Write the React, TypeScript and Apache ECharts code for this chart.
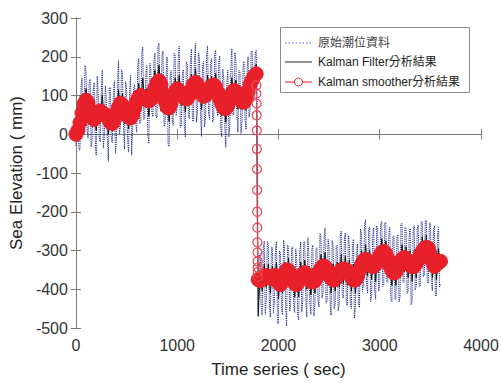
import React, { useEffect, useRef } from "react";
import * as echarts from "echarts";

const STEP = 20;
const HALF = 10;
const SEG2_START = 1800;

const legendNames = ["原始潮位資料", "Kalman Filter分析結果", "Kalman smoother分析結果"];

// ---------- first segment (t = 0 .. 1790) ----------
// raw samples at t = 0, 20, 40, ...
const seg1RawA = [
  -30, 70, -40, 145, 38, 158, -10, 142, -15, 133,
  -55, 105, -20, 166, -8, 88, -70, 120, -22, 138,
  -15, 190, 20, 155, -38, 120, -46, 152, 10, 128,
  5, 196, 30, 225, 42, 178, -24, 170, 45, 210,
  42, 235, 58, 215, 25, 200, -32, 165, 23, 205,
  67, 227, 19, 167, -8, 182, 40, 220, 33, 234,
  58, 195, -6, 188, 45, 228, 38, 195, 37, 217,
  48, 202, -7, 143, -34, 165, 22, 221, 53, 190,
  5, 160, 34, 188, 12, 200, 63, 215, 95, 216,
];
// raw samples at t = 10, 30, 50, ...
const seg1RawB = [
  55, -40, 122, 26, 178, 14, 131, -32, 111, -9,
  150, -8, 103, -36, 125, -11, 120, -16, 98, -49,
  117, 0, 167, 18, 136, -13, 113, -54, 119, 31,
  175, 28, 207, 38, 155, -3, 183, 57, 187, 46,
  225, 73, 201, 20, 137, -26, 144, 39, 209, 48,
  194, 18, 155, 24, 187, 51, 182, 36, 191, 31,
  211, 54, 171, 19, 204, 53, 186, 31, 204, 65,
  185, 15, 168, 22, 130, -7, 174, 49, 211, 50,
  165, 2, 173, 37, 166, 44, 214, 85, 208, 86,
];
const seg1Filter = [
  -15, 35, 0, 90, 58, 118, 40, 87, 20, 78,
  10, 75, 30, 101, 32, 63, 0, 60, 8, 73,
  30, 115, 60, 105, 27, 75, 14, 82, 35, 93,
  55, 131, 75, 145, 72, 118, 46, 120, 85, 165,
  97, 178, 103, 145, 65, 115, 33, 110, 68, 145,
  97, 152, 74, 122, 57, 122, 80, 155, 93, 169,
  103, 145, 64, 133, 80, 153, 88, 150, 92, 157,
  88, 132, 48, 98, 31, 110, 67, 146, 93, 140,
  65, 115, 64, 123, 62, 145, 103, 170, 130, 181,
];
const seg1Smooth = [
  0, 10, 30, 55, 78, 88, 80, 62, 45, 38,
  45, 55, 60, 56, 52, 48, 40, 30, 28, 38,
  55, 70, 80, 75, 62, 50, 44, 42, 50, 68,
  85, 96, 100, 95, 92, 88, 86, 90, 105, 120,
  132, 138, 128, 105, 85, 70, 68, 80, 98, 110,
  117, 112, 104, 97, 92, 92, 100, 115, 128, 134,
  128, 115, 104, 98, 100, 108, 118, 125, 127, 122,
  108, 92, 78, 68, 66, 75, 92, 106, 113, 110,
  100, 90, 84, 83, 92, 110, 128, 140, 150, 156,
];

// smoother transition at the step
const dropTimes = [1782, 1783, 1784, 1785, 1786, 1787, 1788, 1789, 1790, 1791, 1792, 1793, 1794, 1795, 1796, 1797];
const dropSmooth = [126, 105, 79, 49, 10, -38, -90, -144, -200, -241, -279, -305, -328, -344, -356, -368];

// ---------- second segment (t = 1800 .. 3600) ----------
const seg2RawA = [
  -455, -308, -467, -276, -425, -285, -472, -293, -434, -277,
  -489, -308, -466, -290, -495, -292, -442, -290, -460, -318,
  -480, -278, -430, -277, -472, -307, -465, -286, -438, -293,
  -446, -261, -410, -242, -430, -292, -467, -286, -440, -286,
  -441, -250, -423, -254, -442, -290, -450, -271, -446, -283,
  -447, -256, -386, -220, -411, -239, -415, -241, -426, -246,
  -384, -225, -387, -228, -382, -240, -432, -263, -425, -259,
  -422, -230, -383, -242, -405, -243, -427, -236, -394, -234,
  -392, -225, -365, -222, -384, -228, -405, -236, -416, -240,
  -388,
];
const seg2RawB = [
  -316, -460, -294, -465, -277, -436, -290, -461, -298, -488,
  -301, -452, -273, -435, -286, -457, -293, -440, -296, -469,
  -304, -459, -278, -429, -267, -436, -295, -469, -298, -427,
  -256, -423, -271, -436, -271, -437, -274, -450, -290, -456,
  -263, -414, -273, -435, -261, -435, -293, -476, -312, -440,
  -244, -406, -234, -384, -245, -432, -265, -408, -236, -405,
  -230, -393, -228, -380, -256, -426, -265, -426, -264, -433,
  -232, -380, -240, -411, -264, -440, -251, -402, -244, -393,
  -226, -368, -224, -383, -230, -380, -250, -418, -263, -394,
];
const seg2Filter = [
  -470, -350, -405, -335, -395, -335, -410, -340, -395, -330,
  -425, -350, -410, -330, -395, -320, -400, -340, -420, -350,
  -420, -330, -395, -325, -400, -340, -415, -345, -410, -335,
  -390, -310, -375, -305, -385, -330, -410, -335, -405, -330,
  -395, -310, -385, -315, -390, -325, -405, -335, -410, -335,
  -390, -300, -360, -285, -365, -300, -375, -305, -380, -295,
  -350, -270, -345, -275, -355, -305, -390, -320, -390, -310,
  -370, -285, -355, -290, -370, -300, -380, -300, -370, -290,
  -350, -265, -335, -260, -335, -280, -370, -300, -375, -295,
  -350,
];
const seg2Smooth = [
  -375, -378, -372, -366, -365, -370, -372, -368, -364, -372,
  -384, -388, -376, -360, -350, -352, -362, -375, -385, -388,
  -380, -368, -360, -357, -362, -372, -380, -381, -378, -368,
  -356, -346, -340, -342, -350, -362, -372, -376, -375, -366,
  -356, -350, -348, -349, -352, -360, -370, -376, -376, -368,
  -352, -336, -326, -323, -326, -334, -340, -341, -336, -326,
  -314, -305, -302, -308, -322, -340, -352, -358, -355, -344,
  -332, -322, -318, -322, -330, -338, -342, -341, -334, -324,
  -312, -302, -295, -292, -294, -310, -330, -341, -336, -330,
  -328,
];

const FONT = "'Liberation Sans', Arial, 'Noto Sans CJK TC', sans-serif";
const BLUE = "#1f2a88";
const RED = "#e8202a";

function pairs(a: number[], start: number): [number, number][] {
  return a.map((v, i) => [start + i * STEP, v]);
}
function interleave(a: number[], b: number[], start: number): [number, number][] {
  const out: [number, number][] = [];
  a.forEach((v, i) => {
    out.push([start + i * STEP, v]);
    if (i < b.length) out.push([start + i * STEP + HALF, b[i]]);
  });
  return out;
}

export default function App() {
  const ref = useRef<HTMLDivElement>(null);
  useEffect(() => {
    if (!ref.current) return;
    const chart = echarts.init(ref.current, undefined, { renderer: "svg" });
    const rawData = interleave(seg1RawA, seg1RawB, 0).concat(interleave(seg2RawA, seg2RawB, SEG2_START));
    const filterData = pairs(seg1Filter, 0).concat(pairs(seg2Filter, SEG2_START));
    const dropData = dropTimes.map((t, i) => [t, dropSmooth[i]] as [number, number]);
    const bandData = pairs(seg1Smooth, 0).concat(pairs(seg2Smooth, SEG2_START));
    const smoothData = pairs(seg1Smooth, 0).concat(dropData).concat(pairs(seg2Smooth, SEG2_START));

    const axisLine = { show: true, lineStyle: { color: "#7a7a7a", width: 1 } };
    const axisTick = { show: true, inside: true, length: 5, lineStyle: { color: "#7a7a7a" } };
    const label = { color: "#333", fontSize: 16, fontFamily: FONT, formatter: (v: number) => String(v) };

    const rowY = [43, 62, 82];
    const lx0 = 285;
    const lx1 = 312;
    const tx = 318;

    chart.setOption({
      animation: false,
      backgroundColor: "#fff",
      grid: { left: 72, right: 21, top: 18, bottom: 54, containLabel: false },
      graphic: [
        {
          type: "rect",
          shape: { x: 280.5, y: 27.5, width: 189, height: 65 },
          style: { fill: "#fff", stroke: "#8a8a8a", lineWidth: 1 },
          z: 100,
        },
        {
          type: "line",
          shape: { x1: lx0, y1: rowY[0], x2: lx1, y2: rowY[0] },
          style: { stroke: "#5a5ad8", lineWidth: 1, lineDash: [1.5, 2] },
          z: 101,
        },
        {
          type: "line",
          shape: { x1: lx0, y1: rowY[1], x2: lx1, y2: rowY[1] },
          style: { stroke: "#222", lineWidth: 1 },
          z: 101,
        },
        {
          type: "line",
          shape: { x1: lx0, y1: rowY[2], x2: lx1, y2: rowY[2] },
          style: { stroke: RED, lineWidth: 1 },
          z: 101,
        },
        {
          type: "circle",
          shape: { cx: (lx0 + lx1) / 2, cy: rowY[2], r: 4 },
          style: { fill: "#fff", stroke: RED, lineWidth: 1 },
          z: 102,
        },
        ...legendNames.map((n, i) => ({
          type: "text",
          x: tx,
          y: rowY[i],
          style: {
            text: n,
            fill: i === 0 ? "#444" : "#222",
            fontSize: 12,
            fontFamily: FONT,
            verticalAlign: "middle",
            align: "left",
          },
          z: 102,
        })),
      ],
      xAxis: [
        {
          type: "value",
          min: 0,
          max: 4000,
          interval: 1000,
          position: "bottom",
          name: "Time series ( sec)",
          nameLocation: "middle",
          nameGap: 33,
          nameTextStyle: { fontSize: 17, color: "#222", fontFamily: FONT },
          axisLine,
          axisTick,
          axisLabel: { ...label, margin: 9 },
          splitLine: { show: false },
        },
        {
          type: "value",
          min: 0,
          max: 4000,
          interval: 1000,
          position: "top",
          axisLine,
          axisTick,
          axisLabel: { show: false },
          splitLine: { show: false },
        },
      ],
      yAxis: [
        {
          type: "value",
          min: -500,
          max: 300,
          interval: 100,
          position: "left",
          name: "Sea Elevation ( mm)",
          nameLocation: "middle",
          nameGap: 41,
          nameTextStyle: { fontSize: 17, color: "#222", fontFamily: FONT },
          axisLine,
          axisTick,
          axisLabel: { ...label, margin: 8 },
          splitLine: { show: false },
        },
        {
          type: "value",
          min: -500,
          max: 300,
          interval: 100,
          position: "right",
          axisLine,
          axisTick,
          axisLabel: { show: false },
          splitLine: { show: false },
        },
      ],
      series: [
        {
          name: legendNames[0],
          type: "line",
          data: rawData,
          symbol: "none",
          lineStyle: { color: BLUE, width: 1, type: [1.2, 1] },
          itemStyle: { color: BLUE },
          z: 1,
        },
        {
          name: legendNames[1],
          type: "line",
          data: filterData,
          symbol: "none",
          lineStyle: { color: "#111", width: 1 },
          itemStyle: { color: "#111" },
          z: 2,
        },
        {
          name: legendNames[2],
          type: "line",
          data: smoothData,
          symbol: "none",
          lineStyle: { color: "#ee5560", width: 1 },
          itemStyle: { color: RED },
          z: 3,
        },
        {
          name: "smoother markers (dense)",
          type: "scatter",
          data: bandData,
          symbol: "circle",
          symbolSize: 14,
          itemStyle: { color: RED, borderColor: RED, borderWidth: 1, opacity: 1 },
          z: 4,
        },
        {
          name: "smoother markers (step)",
          type: "scatter",
          data: dropData,
          symbol: "circle",
          symbolSize: 9,
          itemStyle: { color: "rgba(0,0,0,0)", borderColor: "#ee4450", borderWidth: 1.2, opacity: 1 },
          z: 4,
        },
      ],
    });
    return () => chart.dispose();
  }, []);
  return (
    <div
      ref={ref}
      style={{ position: "fixed", left: 0, top: 0, width: 502, height: 383, background: "#fff" }}
    />
  );
}
